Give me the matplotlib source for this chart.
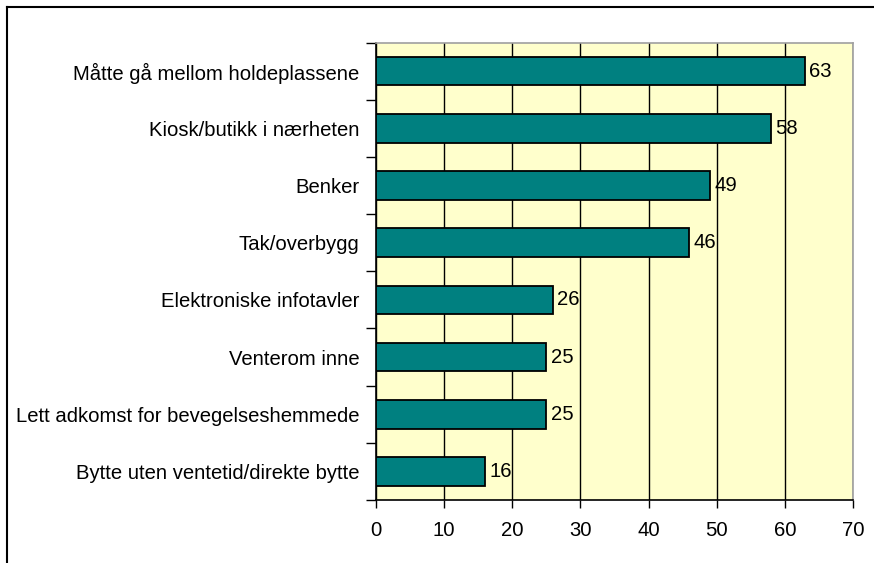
import matplotlib
matplotlib.use("Agg")
import matplotlib.pyplot as plt
from matplotlib.lines import Line2D
import numpy as np

categories = [
    "Måtte gå mellom holdeplassene",
    "Kiosk/butikk i nærheten",
    "Benker",
    "Tak/overbygg",
    "Elektroniske infotavler",
    "Venterom inne",
    "Lett adkomst for bevegelseshemmede",
    "Bytte uten ventetid/direkte bytte",
]
values = [63, 58, 49, 46, 26, 25, 25, 16]
xticks = [0, 10, 20, 30, 40, 50, 60, 70]

plt.rcParams['font.family'] = ['Liberation Sans', 'DejaVu Sans']

W, H = 874, 563
fig = plt.figure(figsize=(W / 100, H / 100), dpi=100)
fig.patch.set_facecolor("white")

left, right, top, bottom = 376, 853, 42.5, 500
ax = fig.add_axes([left / W, 1 - bottom / H, (right - left) / W, (bottom - top) / H])
ax.set_facecolor("#FFFFCC")

fs = 14.6
n = len(categories)
y = np.arange(n)
ax.barh(y, values, height=0.5, color="#008080", edgecolor="black", linewidth=1.3, zorder=3)
ax.set_ylim(n - 0.5, -0.5)
ax.set_xlim(0, 70)

ax.set_xticks(xticks)
ax.set_xticklabels([str(t) for t in xticks])
ax.tick_params(axis="x", length=6, width=1, pad=9, labelsize=fs, colors="black")
ax.xaxis.grid(True, color="black", linewidth=1, zorder=1)

ax.set_yticks(y)
ax.set_yticklabels(categories)
ax.tick_params(axis="y", which="major", length=0, pad=12, labelsize=fs)
ax.set_yticks(np.arange(n + 1) - 0.5, minor=True)
ax.tick_params(axis="y", which="minor", length=7, width=1)

for s in ["left", "bottom"]:
    ax.spines[s].set_color("black")
    ax.spines[s].set_linewidth(1.2)
for s in ["top", "right"]:
    ax.spines[s].set_color("#A0A0A0")
    ax.spines[s].set_linewidth(1.2)

for yi, v in zip(y, values):
    ax.annotate(str(v), (v, yi), xytext=(3, 0), textcoords="offset points",
                va="center", ha="left", fontsize=fs, zorder=4)

# outer frame (only left and top visible)
fig.add_artist(Line2D([6.5 / W, 6.5 / W], [0, 1 - 6.5 / H], color="black", linewidth=1.5, transform=fig.transFigure))
fig.add_artist(Line2D([6.5 / W, 1], [1 - 6.5 / H, 1 - 6.5 / H], color="black", linewidth=1.5, transform=fig.transFigure))

fig.savefig("out.png", dpi=100)
